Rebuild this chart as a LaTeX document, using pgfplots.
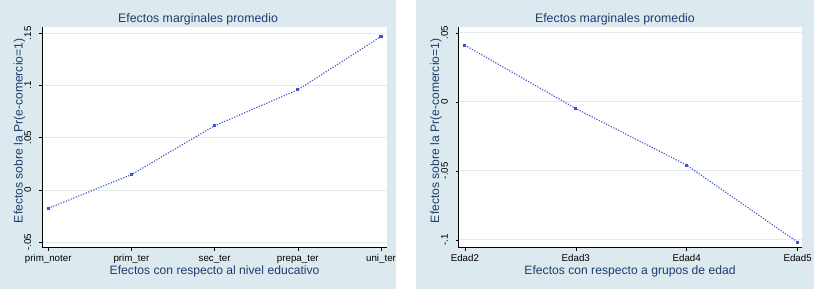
\documentclass[border=0pt]{standalone}
\usepackage{pgfplots}
\pgfplotsset{compat=1.18}
\usepackage{fontspec}
\setmainfont{Liberation Sans}
\definecolor{bgcol}{RGB}{220,234,239}
\definecolor{gridcol}{RGB}{226,234,238}
\definecolor{linecol}{RGB}{62,84,200}
\definecolor{navytext}{RGB}{30,60,110}
\pgfplotsset{
  statastyle/.style={
    scale only axis,
    anchor=south west,
    axis x line*=bottom,
    axis y line*=left,
    axis line style={black, line width=0.6bp},
    axis background/.style={fill=white},
    tick align=outside,
    major tick length=3bp,
    tick style={black, line width=0.5bp},
    ymajorgrids,
    grid style={gridcol, line width=0.8bp},
    /pgf/number format/assume math mode=true,
    ticklabel style={font=\fontsize{9.8}{10}\selectfont, text=black},
    xticklabel style={anchor=base},
    xticklabel shift=10.5bp,
    yticklabel style={rotate=90, anchor=base},
    yticklabel shift=7.7bp,
    label style={font=\fontsize{12.2}{13}\selectfont, text=navytext},
    every axis title shift=0pt,
    title style={font=\fontsize{12.4}{13}\selectfont, text=navytext, anchor=base},
    xlabel style={anchor=base},
    ylabel style={anchor=base},
    clip=false,
  },
}
\begin{document}
\begin{tikzpicture}[x=1bp,y=1bp]
\fill[white] (0,0) rectangle (815,290);
\fill[bgcol] (0,0) rectangle (397,290);
\fill[bgcol] (417,0) rectangle (815,290);
% Left panel
\begin{axis}[statastyle,
  at={(42bp,42bp)}, width=346bp, height=221bp,
  xmin=-0.0756, xmax=4.0756, ymin=-0.0552, ymax=0.1561,
  xtick={0,1,2,3,4},
  xticklabels={prim\_noter,prim\_ter,sec\_ter,prepa\_ter,uni\_ter},
  ytick={-0.05,0,0.05,0.1,0.15},
  yticklabels={-.05,0,.05,.1,.15},
  title={Efectos marginales promedio},
  title style={at={(0.452,1)}, yshift=4.7bp},
  xlabel={Efectos con respecto al nivel educativo},
  xlabel style={at={(0.5,0)}, yshift=-27.3bp},
  ylabel={Efectos sobre la Pr(e-comercio=1)},
  ylabel style={at={(0,0.529)}, yshift=19.3bp},
]
\addplot[linecol, dash pattern=on 1.2bp off 1.5bp, line width=1.1bp, mark=square*, mark size=1bp, mark options={solid}]
  coordinates {(0,-0.0176) (1,0.0146) (2,0.0615) (3,0.0959) (4,0.1469)};
\end{axis}
% Right panel
\begin{axis}[statastyle,
  at={(459.3bp,42bp)}, width=343.7bp, height=221bp,
  xmin=-0.0576, xmax=3.036, ymin=-0.1056, ymax=0.0542,
  xtick={0,1,2,3},
  xticklabels={Edad2,Edad3,Edad4,Edad5},
  ytick={-0.1,-0.05,0,0.05},
  yticklabels={-.1,-.05,0,.05},
  title={Efectos marginales promedio},
  title style={at={(0.456,1)}, yshift=4.7bp},
  xlabel={Efectos con respecto a grupos de edad},
  xlabel style={at={(0.5,0)}, yshift=-27.3bp},
  ylabel={Efectos sobre la Pr(e-comercio=1)},
  ylabel style={at={(0,0.529)}, yshift=19.3bp},
]
\addplot[linecol, dash pattern=on 1.2bp off 1.5bp, line width=1.1bp, mark=square*, mark size=1bp, mark options={solid}]
  coordinates {(0,0.041) (1,-0.0049) (2,-0.0459) (3,-0.1017)};
\end{axis}
\end{tikzpicture}
\end{document}
